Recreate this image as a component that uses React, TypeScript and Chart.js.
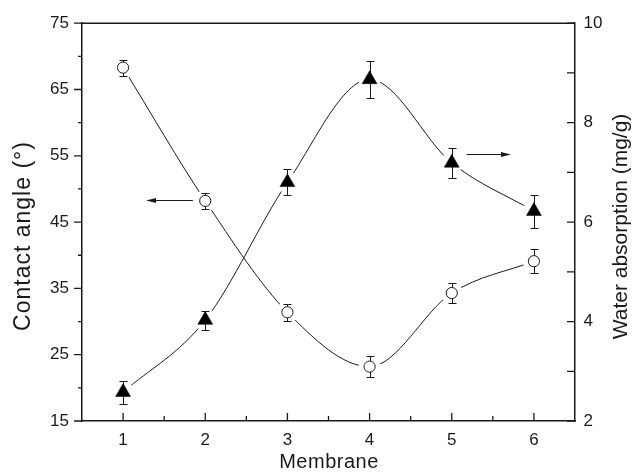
import React, { useEffect, useRef } from 'react';
import { Chart, registerables } from 'chart.js';

Chart.register(...registerables);

// ---- data ----
const membranes = [1, 2, 3, 4, 5, 6];
const contactAngle = [68.3, 48.2, 31.4, 23.2, 34.3, 39.1];
const contactAngleErr = [1.2, 1.2, 1.3, 1.6, 1.5, 1.8];
const waterAbsorption = [2.58, 4.03, 6.8, 8.87, 7.19, 6.22];
const waterAbsorptionErr = [0.23, 0.19, 0.26, 0.37, 0.3, 0.33];

const xTicks = [1, 2, 3, 4, 5, 6];
const xMinorTicks = [1.5, 2.5, 3.5, 4.5, 5.5];
const leftTicks = [15, 25, 35, 45, 55, 65, 75];
const leftMinorTicks = [20, 30, 40, 50, 60, 70];
const rightTicks = [2, 4, 6, 8, 10];
const rightMinorTicks = [3, 5, 7, 9];

// arrows (data units): [x start, x end], y
const caArrowX = [1.85, 1.28];
const caArrowY = 48.3;
const waArrowX = [5.18, 5.72];
const waArrowY = 7.36;

const FONT = '"Liberation Sans", Arial, Helvetica, sans-serif';
const INK = '#1a1a1a';

const pts = (ys: number[]) => ys.map((y, i) => ({ x: membranes[i], y }));

const decorPlugin = {
  id: 'decor',
  beforeDatasetDraw(chart: any, args: any) {
    const ds = chart.data.datasets[args.index];
    if (!ds.errors) return;
    const ctx = chart.ctx;
    const xs = chart.scales.x;
    const ys = chart.scales[ds.yAxisID];
    ctx.save();
    ctx.strokeStyle = INK;
    ctx.lineWidth = 1;
    ds.data.forEach((p: any, i: number) => {
      const px = Math.round(xs.getPixelForValue(p.x)) + 0.5;
      const top = Math.round(ys.getPixelForValue(p.y + ds.errors[i])) + 0.5;
      const bot = Math.round(ys.getPixelForValue(p.y - ds.errors[i])) + 0.5;
      ctx.beginPath();
      ctx.moveTo(px, top);
      ctx.lineTo(px, bot);
      ctx.moveTo(px - 4, top);
      ctx.lineTo(px + 4, top);
      ctx.moveTo(px - 4, bot);
      ctx.lineTo(px + 4, bot);
      ctx.stroke();
    });
    ctx.restore();
  },
  afterDraw(chart: any) {
    const ctx = chart.ctx;
    const { left, right, top, bottom } = chart.chartArea;
    const xs = chart.scales.x;
    const yl = chart.scales.y;
    const yr = chart.scales.y2;
    ctx.save();
    ctx.strokeStyle = INK;
    ctx.lineWidth = 1.5;
    // top frame line
    ctx.beginPath();
    ctx.moveTo(left, top);
    ctx.lineTo(right, top);
    ctx.stroke();
    // ticks
    ctx.lineWidth = 1.3;
    ctx.beginPath();
    leftTicks.forEach((v) => {
      const y = yl.getPixelForValue(v);
      ctx.moveTo(left, y);
      ctx.lineTo(left - 8, y);
    });
    leftMinorTicks.forEach((v) => {
      const y = yl.getPixelForValue(v);
      ctx.moveTo(left, y);
      ctx.lineTo(left - 4, y);
    });
    xTicks.forEach((v) => {
      const x = xs.getPixelForValue(v);
      ctx.moveTo(x, bottom);
      ctx.lineTo(x, bottom - 8);
    });
    xMinorTicks.forEach((v) => {
      const x = xs.getPixelForValue(v);
      ctx.moveTo(x, bottom);
      ctx.lineTo(x, bottom - 5);
    });
    rightTicks.concat(rightMinorTicks).forEach((v) => {
      const y = yr.getPixelForValue(v);
      ctx.moveTo(right, y);
      ctx.lineTo(right - 8, y);
    });
    ctx.stroke();

    // arrows
    const arrow = (x0: number, x1: number, y: number) => {
      const dir = Math.sign(x1 - x0);
      ctx.lineWidth = 1;
      ctx.beginPath();
      ctx.moveTo(x0, y);
      ctx.lineTo(x1 - dir * 8, y);
      ctx.stroke();
      ctx.beginPath();
      ctx.moveTo(x1, y);
      ctx.lineTo(x1 - dir * 10, y - 2.5);
      ctx.lineTo(x1 - dir * 10, y + 2.5);
      ctx.closePath();
      ctx.fillStyle = INK;
      ctx.fill();
    };
    const ay1 = Math.round(yl.getPixelForValue(caArrowY)) + 0.5;
    arrow(xs.getPixelForValue(caArrowX[0]), xs.getPixelForValue(caArrowX[1]), ay1);
    const ay2 = Math.round(yr.getPixelForValue(waArrowY)) + 0.5;
    arrow(xs.getPixelForValue(waArrowX[0]), xs.getPixelForValue(waArrowX[1]), ay2);

    // axis titles
    ctx.fillStyle = INK;
    ctx.textBaseline = 'alphabetic';
    ctx.textAlign = 'center';

    ctx.save();
    ctx.font = `23px ${FONT}`;
    (ctx as any).letterSpacing = '1px';
    ctx.translate(29.5, 236);
    ctx.rotate(-Math.PI / 2);
    ctx.fillText('Contact angle (\u00B0)', 0, 0);
    ctx.restore();

    ctx.save();
    ctx.font = `21px ${FONT}`;
    ctx.translate(627, 226.5);
    ctx.rotate(-Math.PI / 2);
    ctx.fillText('Water absorption (mg/g)', 0, 0);
    ctx.restore();

    ctx.save();
    ctx.font = `20px ${FONT}`;
    (ctx as any).letterSpacing = '0.5px';
    ctx.fillText('Membrane', (left + right) / 2 + 0.5, 467.5);
    ctx.restore();

    ctx.restore();
  },
};

export default function App() {
  const ref = useRef<HTMLCanvasElement | null>(null);

  useEffect(() => {
    document.body.style.margin = '0';
    const canvas = ref.current;
    if (!canvas) return;

    const lineBase = {
      pointRadius: 0,
      pointHoverRadius: 0,
      borderColor: INK,
      borderWidth: 1,
      fill: false,
      cubicInterpolationMode: 'monotone',
    };
    const haloBase = {
      showLine: false,
      pointRadius: 11,
      pointHoverRadius: 11,
      pointBackgroundColor: '#ffffff',
      pointBorderWidth: 0,
      pointBorderColor: '#ffffff',
    };

    const chart = new Chart(canvas, {
      type: 'line',
      data: {
        datasets: [
          {
            label: 'Contact angle',
            data: pts(contactAngle),
            errors: contactAngleErr,
            yAxisID: 'y',
            showLine: false,
            pointStyle: 'circle',
            pointRadius: 5.6,
            pointHoverRadius: 5.6,
            pointBackgroundColor: '#ffffff',
            pointBorderColor: INK,
            pointBorderWidth: 1,
            order: 1,
          } as any,
          {
            label: 'Water absorption',
            data: pts(waterAbsorption),
            errors: waterAbsorptionErr,
            yAxisID: 'y2',
            showLine: false,
            pointStyle: 'triangle',
            pointRadius: 8.6,
            pointHoverRadius: 8.6,
            pointBackgroundColor: '#000000',
            pointBorderColor: '#000000',
            pointBorderWidth: 0.5,
            order: 1,
          } as any,
          { ...haloBase, data: pts(contactAngle), yAxisID: 'y', order: 2 } as any,
          { ...haloBase, data: pts(waterAbsorption), yAxisID: 'y2', order: 2 } as any,
          { ...lineBase, data: pts(contactAngle), yAxisID: 'y', order: 3 } as any,
          { ...lineBase, data: pts(waterAbsorption), yAxisID: 'y2', order: 3 } as any,
        ],
      },
      options: {
        responsive: false,
        animation: false,
        events: [],
        layout: { padding: { top: 20, left: 0, right: 0, bottom: 0 } },
        plugins: {
          legend: { display: false },
          tooltip: { enabled: false },
        },
        scales: {
          x: {
            type: 'linear',
            min: 0.5,
            max: 6.5,
            afterBuildTicks: (s: any) => {
              s.ticks = xTicks.map((v) => ({ value: v }));
            },
            afterFit: (s: any) => {
              s.height = 52;
            },
            grid: { display: false, drawTicks: false },
            border: { display: true, color: INK, width: 1.5 },
            ticks: {
              color: INK,
              font: { family: FONT, size: 17 },
              padding: 9,
              maxRotation: 0,
              autoSkip: false,
            },
          },
          y: {
            type: 'linear',
            position: 'left',
            min: 15,
            max: 75,
            afterBuildTicks: (s: any) => {
              s.ticks = leftTicks.map((v) => ({ value: v }));
            },
            afterFit: (s: any) => {
              s.width = 82;
            },
            grid: { display: false, drawTicks: false },
            border: { display: true, color: INK, width: 1.5 },
            ticks: {
              color: INK,
              font: { family: FONT, size: 17 },
              padding: 13,
            },
          },
          y2: {
            type: 'linear',
            position: 'right',
            min: 2,
            max: 10,
            afterBuildTicks: (s: any) => {
              s.ticks = rightTicks.map((v) => ({ value: v }));
            },
            afterFit: (s: any) => {
              s.width = 57;
            },
            grid: { display: false, drawTicks: false },
            border: { display: true, color: INK, width: 1.5 },
            ticks: {
              color: INK,
              font: { family: FONT, size: 17 },
              padding: 8.5,
            },
          },
        },
      } as any,
      plugins: [decorPlugin],
    });

    return () => chart.destroy();
  }, []);

  return (
    <div style={{ position: 'absolute', left: 0, top: 0, width: 632, height: 473, background: '#fff' }}>
      <canvas ref={ref} width={632} height={473} style={{ display: 'block', width: 632, height: 473 }} />
    </div>
  );
}
